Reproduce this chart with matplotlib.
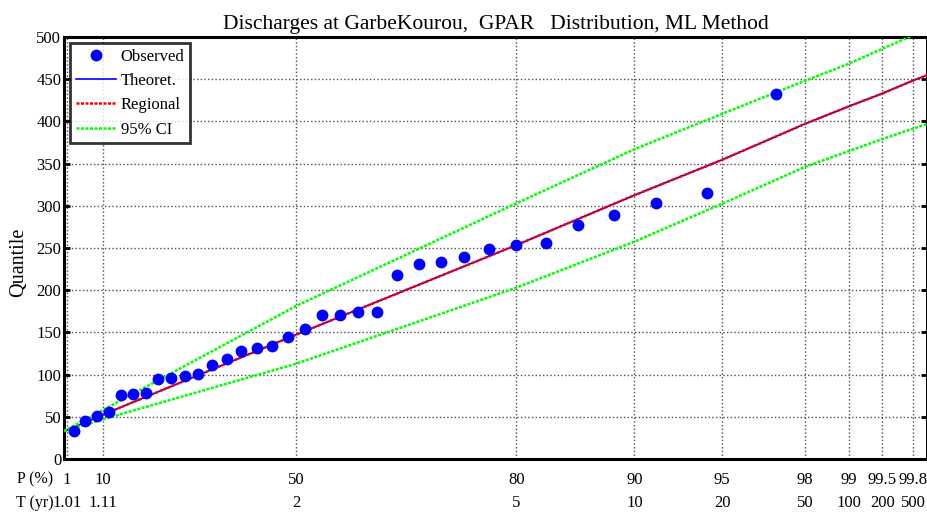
import numpy as np
import matplotlib
matplotlib.use("Agg")
import matplotlib.pyplot as plt

plt.rcParams['font.family'] = ['Liberation Serif', 'DejaVu Serif']

# non-exceedance probability (%) of the observed discharges
obs_p = [2.86, 5.71, 8.57, 11.43, 14.29, 17.14, 20.00, 22.86, 25.71, 28.57,
         31.43, 34.29, 37.14, 40.00, 42.86, 45.71, 48.57, 51.43, 54.29, 57.14,
         60.00, 62.86, 65.71, 68.57, 71.43, 74.29, 77.14, 80.00, 82.86, 85.71,
         88.57, 91.43, 94.29, 97.14]
obs_q = [33.2, 45.4, 51.3, 55.3, 75.8, 76.6, 77.8, 94.4, 95.6, 98.3,
         100.7, 111.4, 118.5, 128.3, 131.2, 133.9, 144.0, 154.4, 170.6, 170.6,
         174.2, 174.6, 217.6, 231.4, 233.0, 239.0, 248.4, 253.2, 255.9, 277.3,
         288.7, 303.7, 315.5, 432.1]

# curves, read at the probability grid
curve_p = [0.31, 1, 10, 50, 80, 90, 95, 98, 99, 99.5, 99.8, 99.9]
theor_q = [33.0, 34.0, 52.5, 147.5, 253.5, 312.5, 354.5, 397.0, 418.0, 433.0, 448.5, 456.0]
region_q = [33.0, 34.0, 52.5, 147.5, 253.5, 312.5, 354.5, 397.0, 418.0, 433.0, 448.5, 456.0]
ci_up = [33.0, 34.8, 58.0, 181.5, 303.0, 367.0, 409.0, 448.0, 468.5, 486.0, 502.0, 510.0]
ci_lo = [33.0, 34.0, 47.0, 113.0, 203.0, 257.5, 302.5, 346.0, 365.0, 379.0, 391.5, 398.0]

p_ticks = [1, 10, 50, 80, 90, 95, 98, 99, 99.5, 99.8]
p_labels = ['1', '10', '50', '80', '90', '95', '98', '99', '99.5', '99.8']
t_labels = ['1.01', '1.11', '2', '5', '10', '20', '50', '100', '200', '500']

K = 0.425  # GPA reduced variate for the probability axis


def fwd(p):
    p = np.clip(np.asarray(p, dtype=float), -0.5, 0.999999)
    return (1 - (1 - p) ** K) / K


def inv(y):
    y = np.clip(np.asarray(y, dtype=float), -1.0, 1 / K - 1e-6)
    return 1 - (1 - K * y) ** (1 / K)


fig = plt.figure(figsize=(9.28, 5.16), dpi=100)
ax = fig.add_axes([64 / 928, 1 - 459 / 516, 863.5 / 928, 422 / 516])
ax.set_xscale('function', functions=(fwd, inv))

cp = np.array(curve_p) / 100
ax.plot(np.array(obs_p) / 100, obs_q, 'o', color='#0000FF', ms=7.5, mec='#0000FF',
        label='Observed', zorder=5)
ax.plot(cp, theor_q, '-', color='#0000FF', lw=1.2, label='Theoret.', zorder=3)
ax.plot(cp, region_q, color='#FF0000', lw=1.8, ls=(0, (1.2, 0.6)), label='Regional', zorder=4)
ax.plot(cp, ci_up, color='#00FF00', lw=1.8, ls=(0, (1.2, 0.6)), label='95% CI', zorder=4)
ax.plot(cp, ci_lo, color='#00FF00', lw=1.8, ls=(0, (1.2, 0.6)), zorder=4)

ax.set_xlim(0.00309, 0.99888)
ax.set_ylim(0, 500)
ax.set_yticks(np.arange(0, 501, 50))
ax.set_xticks(np.array(p_ticks) / 100)
ax.set_xticklabels([f"{a}\n{b}" for a, b in zip(p_labels, t_labels)], linespacing=1.65)
ax.grid(True, color='0.3', ls=':', lw=1.0)
ax.tick_params(axis='both', direction='in', length=4, width=2, labelsize=12,
               right=True, top=False)
ax.tick_params(axis='x', length=0, pad=9)
ax.tick_params(axis='y', pad=2)
for s in ax.spines.values():
    s.set_linewidth(2.2)

ax.set_ylabel('Quantile', fontsize=14.5)
ax.yaxis.set_label_coords(-0.041, 0.467)
ax.set_title('Discharges at GarbeKourou,  GPAR   Distribution, ML Method',
             fontsize=15.5, pad=6)

fig.text(17 / 928, 1 - 479 / 516, 'P (%)', fontsize=11.5, va='center', ha='left')
fig.text(16 / 928, 1 - 503 / 516, 'T (yr)', fontsize=11.5, va='center', ha='left')

leg = ax.legend(loc='upper left', fontsize=12, frameon=True, fancybox=False,
                edgecolor='black', borderaxespad=0.35, handlelength=2.4,
                labelspacing=0.5, borderpad=0.35, handletextpad=0.3)
leg.get_frame().set_linewidth(2)

fig.savefig('out.png', dpi=100)
